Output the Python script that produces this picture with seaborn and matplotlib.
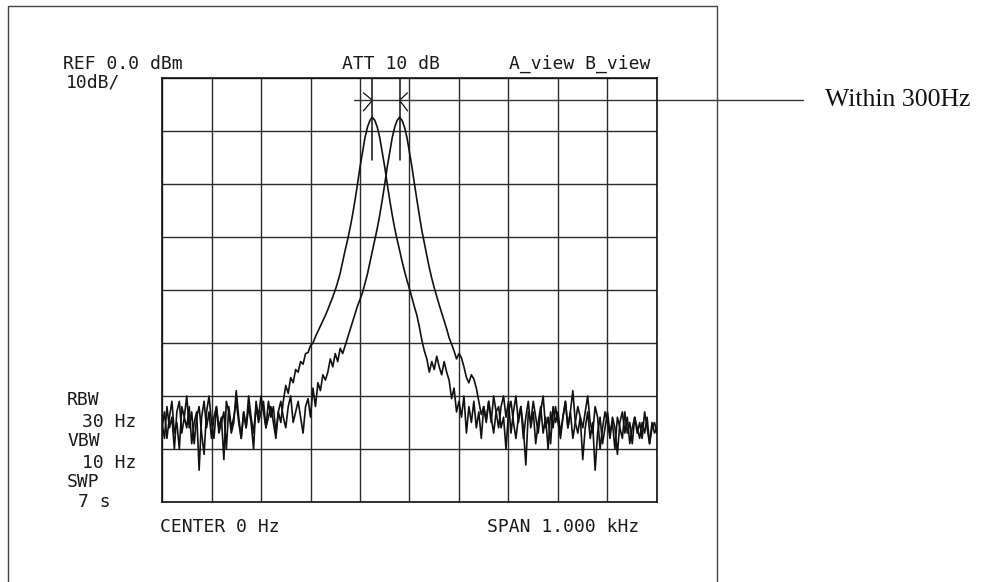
import numpy as np
import pandas as pd
import matplotlib.pyplot as plt
from matplotlib.patches import Rectangle
import seaborn as sns

# sweep span and screen scale
span_hz = (-500, 500)
ref_db = 0.0
db_per_div = 10

# trace A (left peak), levels in dBm, 5 Hz per point
trace_a = [
    -66, -63, -68, -64, -61, -67, -65, -70, -62, -64,
    -60, -66, -63, -69, -64, -62, -67, -71, -63, -60,
    -65, -68, -62, -66, -64, -72, -61, -63, -67, -65,
    -59, -64, -68, -63, -66, -62, -65, -70, -61, -64,
    -60, -63, -66, -61, -64, -62, -67, -63, -65,
    -61, -58, -59.5, -56.5, -57.5, -55, -55.5, -53.5, -54, -52,
    -51.8, -50.5, -50, -48.8, -47.8, -46.8, -45.8, -44.8, -43.7, -42.5,
    -41.3, -40, -38.5, -36.8, -34.6, -32.5, -30.5, -28.3, -25.8, -23,
    -20, -16.8, -14, -11.3, -9.3, -8,
    -7.4,
    -8.0, -9.3, -11.3, -14.0, -16.8, -20.0, -23.0, -25.8, -28.3, -30.5,
    -32.5, -34.6, -36.5, -38.2, -39.8, -41.5, -43.2, -44.8, -47.0, -49.5,
    -51.5, -53.0, -55.5, -53.5, -55.0, -52.5, -54.5, -56.0, -53.5, -55.5,
    -57.0, -60.5, -58.5, -63.0, -61.0,
    -64, -60, -67, -62, -65, -61, -66, -63, -68, -62,
    -65, -61, -64, -67, -63, -62, -66, -64, -70, -63,
    -61, -65, -68, -64, -62, -66, -73, -63, -65, -61,
    -64, -67, -63, -60, -66, -64, -69, -62, -65, -63,
    -67, -64, -61, -66, -63, -68, -65, -62, -64, -66,
    -63, -60, -65, -67, -62, -64, -70, -66, -63, -65,
    -68, -64, -66, -71, -65, -63, -67, -64, -69, -66,
    -64, -67, -65, -68, -63, -66, -69, -65, -67, -66,
]

# trace B (right peak)
trace_b = [
    -65, -68, -62, -66, -64, -70, -63, -61, -67, -64,
    -66, -62, -69, -65, -63, -74, -64, -61, -66, -63,
    -68, -64, -62, -67, -65, -63, -70, -62, -66, -64,
    -61, -65, -68, -63, -66, -60, -64, -67, -62, -65,
    -63, -61, -66, -64, -62, -65, -68, -63, -61, -64,
    -66, -62, -60, -65, -63, -61, -64, -67, -62,
    -60.5, -64, -58.5, -62, -57.5, -59, -56, -57, -55.5, -53,
    -54.5, -52, -53.5, -51, -52, -50.5, -49, -47.5, -46, -44.5,
    -43, -41.8, -40.5, -38.8, -37, -34.8, -32.5, -30.5, -28.3, -25.8,
    -23, -20, -16.8, -14, -11.3, -9.3, -8,
    -7.4,
    -8.0, -9.3, -11.3, -14.0, -16.8, -20.0, -23.0, -26.0, -28.8, -31.2,
    -33.5, -35.8, -37.8, -39.6, -41.2, -42.8, -44.3, -45.8, -47.3, -49.0,
    -50.2, -51.5, -53.0, -52.0, -52.8, -54.5, -56.5, -57.5, -56.0, -56.8,
    -58.5, -61.0, -63.5, -62.0, -64.5,
    -61, -65, -60, -63, -66, -62, -60, -64, -61, -67,
    -63, -60, -65, -62, -68, -64, -61, -66, -63, -69,
    -65, -62, -67, -64, -70, -63, -66, -62, -65, -68,
    -64, -61, -66, -63, -59, -65, -67, -64, -72, -66,
    -63, -68, -65, -74, -67, -64, -69, -66, -63, -67,
    -65, -70, -64, -66, -68, -63, -67, -65, -69, -64,
    -66, -68, -65, -67, -64, -69, -66, -65, -67,
]
assert len(trace_a) == 201 and len(trace_b) == 201

marker_db = -4.2

freq = np.linspace(span_hz[0], span_hz[1], len(trace_a))
df = pd.DataFrame({
    "freq": np.concatenate([freq, freq]),
    "level": trace_a + trace_b,
    "trace": ["A"] * len(trace_a) + ["B"] * len(trace_b),
})

sns.set_theme(style="white")
plt.rcParams["font.family"] = ["DejaVu Sans Mono", "DejaVu Sans"]

fig = plt.figure(figsize=(9.85, 5.82), dpi=100)
ax = fig.add_axes([162 / 985, 1 - 502 / 582, 495 / 985, 424 / 582])

sns.lineplot(data=df, x="freq", y="level", hue="trace",
             palette=["#111111", "#111111"], legend=False,
             linewidth=1.2, ax=ax, sort=False)

ax.set_xlim(*span_hz)
ax.set_ylim(ref_db - 8 * db_per_div, ref_db)
ax.set_xticks(np.arange(span_hz[0], span_hz[1] + 1, 100))
ax.set_yticks(np.arange(ref_db - 8 * db_per_div, ref_db + 1, db_per_div))
ax.grid(True, color="#2a2a2a", linewidth=1.0)
ax.tick_params(length=0, labelbottom=False, labelleft=False)
ax.set_xlabel("")
ax.set_ylabel("")
for s in ax.spines.values():
    s.set_color("#111111")
    s.set_linewidth(1.2)

# markers on the two peaks
peak_a = freq[int(np.argmax(trace_a))]
peak_b = freq[int(np.argmax(trace_b))]
for pk in (peak_a, peak_b):
    ax.plot([pk, pk], [0.4, -15.5], color="#111111", lw=1.1)
ax.plot([peak_a - 18, peak_a, peak_a - 18], [-2.8, marker_db, -6.2],
        color="#111111", lw=0.9)
ax.plot([peak_b + 16, peak_b, peak_b + 16], [-2.8, marker_db, -6.2],
        color="#111111", lw=0.9)

# width line running out to the note
ax.plot([(354 - 162) / 495, (803 - 162) / 495], [marker_db, marker_db],
        transform=ax.get_yaxis_transform(), clip_on=False,
        color="#333333", lw=1.0)
fig.text(825 / 985, 1 - 100 / 582, "Within 300Hz", ha="left", va="center",
         fontsize=18.5, family=["Liberation Serif", "DejaVu Serif"],
         color="#111111")

# instrument annotations
def label(x, y, s):
    fig.text(x / 985, 1 - y / 582, s, ha="left", va="center",
             fontsize=13, color="#1a1a1a")

label(63, 64, "REF 0.0 dBm")
label(66, 83, "10dB/")
label(342, 64, "ATT 10 dB")
label(509, 64, "A_view B_view")
label(67, 400, "RBW")
label(82, 422, "30 Hz")
label(67, 441, "VBW")
label(82, 463, "10 Hz")
label(67, 482, "SWP")
label(78, 502, "7 s")
label(160, 527, "CENTER 0 Hz")
label(487, 527, "SPAN 1.000 kHz")

# scanned page frame
fig.add_artist(Rectangle((8 / 985, -0.01), (717 - 8) / 985, 1.0 - 6 / 582 + 0.01,
                         transform=fig.transFigure, fill=False,
                         edgecolor="#444444", linewidth=1.0))

fig.savefig("out.png", dpi=100)
